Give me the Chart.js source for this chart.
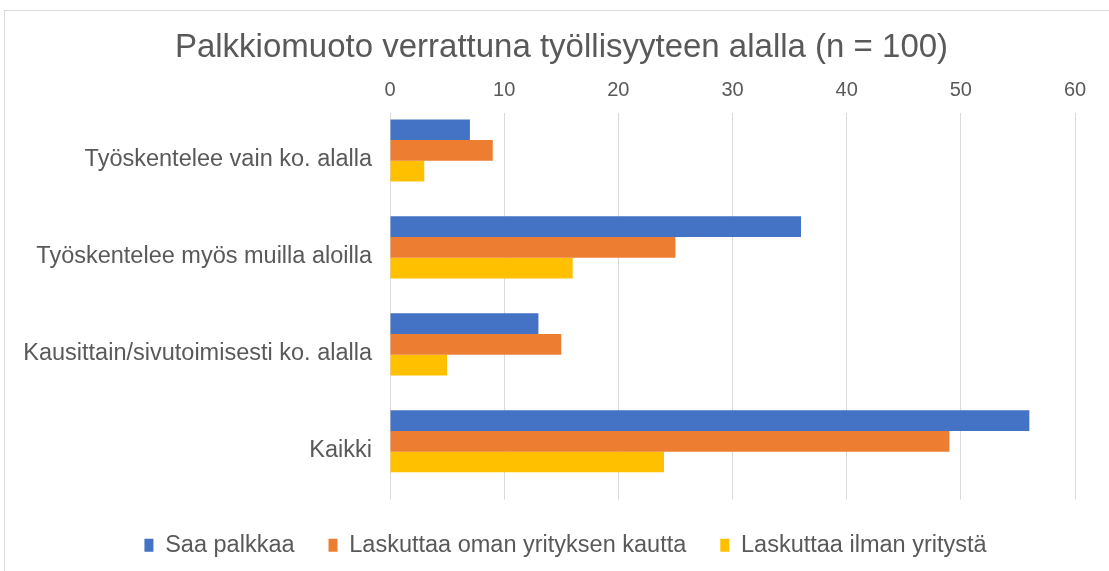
<!DOCTYPE html>
<html>
<head>
<meta charset="utf-8">
<script src="https://cdn.jsdelivr.net/npm/chart.js@4"></script>
<style>
  html, body { margin: 0; padding: 0; background: #fff; }
  #wrap { position: relative; width: 1109px; height: 571px; }
  #frame { position: absolute; left: 4px; top: 10px; right: -2px; bottom: -2px;
           border: 1px solid #d9d9d9; }
  canvas { position: absolute; left: 0; top: 0; }
</style>
</head>
<body>
<div id="wrap">
  <div id="frame"></div>
  <canvas id="chart" width="1109" height="571"></canvas>
</div>
<script>
const categories = [
  'Työskentelee vain ko. alalla',
  'Työskentelee myös muilla aloilla',
  'Kausittain/sivutoimisesti ko. alalla',
  'Kaikki'
];
const seriesNames = ['Saa palkkaa', 'Laskuttaa oman yrityksen kautta', 'Laskuttaa ilman yritystä'];
const saaPalkkaa = [7, 36, 13, 56];
const omanYrityksen = [9, 25, 15, 49];
const ilmanYritysta = [3, 16, 5, 24];
const colors = ['#4472C4', '#ED7D31', '#FFC000'];

const font = "'Liberation Sans', Arial, Helvetica, sans-serif";
const textColor = '#595959';

// title and legend sit a bit right of the canvas centre in the original
const shiftBlocks = {
  id: 'shiftBlocks',
  afterLayout(chart) {
    chart.titleBlock.left += 24; chart.titleBlock.right += 24;
    chart.legend.left += 28; chart.legend.right += 28;
  }
};

const chart = new Chart(document.getElementById('chart'), {
  type: 'bar',
  data: {
    datasets: [saaPalkkaa, omanYrityksen, ilmanYritysta].map((d, i) => ({
      label: seriesNames[i],
      data: d.map((v, j) => ({ x: v, y: j })),
      backgroundColor: colors[i],
      borderWidth: 0,
      barPercentage: 1.0,
      categoryPercentage: 0.64
    }))
  },
  plugins: [shiftBlocks],
  options: {
    indexAxis: 'y',
    responsive: false,
    animation: false,
    layout: { padding: { left: 0, right: 34, top: 14, bottom: 4 } },
    plugins: {
      title: {
        display: true,
        text: 'Palkkiomuoto verrattuna työllisyyteen alalla (n = 100)',
        color: textColor,
        font: { family: font, size: 33, weight: 'normal' },
        padding: { top: 14, bottom: 1 }
      },
      legend: {
        position: 'bottom',
        labels: {
          color: textColor,
          font: { family: font, size: 23.5 },
          boxWidth: 9,
          boxHeight: 13,
          padding: 34
        }
      },
      tooltip: { enabled: false }
    },
    scales: {
      x: {
        position: 'top',
        min: 0,
        max: 60,
        ticks: { stepSize: 10, color: textColor, font: { family: font, size: 20 }, padding: 10 },
        grid: { color: '#d9d9d9', lineWidth: 1, drawTicks: false },
        border: { display: false }
      },
      y: {
        type: 'linear',
        reverse: true,
        offset: false,
        min: -0.39,
        max: 3.6,
        // category labels sit slightly below the middle of each bar group
        afterBuildTicks: s => { s.ticks = categories.map((c, i) => ({ value: i + 0.09 })); },
        ticks: {
          color: textColor,
          font: { family: font, size: 23.5 },
          padding: 18,
          callback: v => categories[Math.round(v)]
        },
        grid: { display: false, drawTicks: false, offset: false },
        border: { display: false },
        afterFit: s => { s.width = 390; }
      }
    }
  }
});
</script>
</body>
</html>
